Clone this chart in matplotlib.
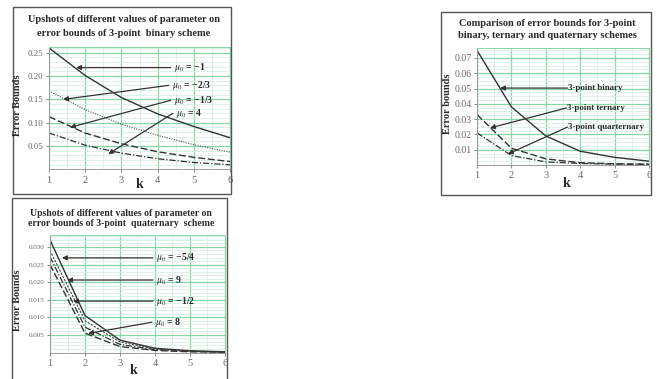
import numpy as np
import matplotlib
matplotlib.use("Agg")
import matplotlib.pyplot as plt
from matplotlib.patches import Rectangle
from matplotlib.ticker import MultipleLocator

plt.rcParams['font.family'] = ['Liberation Serif', 'DejaVu Serif']
plt.rcParams['mathtext.fontset'] = 'stix'

W, H = 659, 379

# data
k = [1, 2, 3, 4, 5, 6]

# panel 1: 3-point binary scheme
bin_m1 = [0.260, 0.201, 0.154, 0.119, 0.092, 0.068]
bin_m23 = [0.168, 0.128, 0.097, 0.073, 0.053, 0.037]
bin_m13 = [0.113, 0.078, 0.055, 0.038, 0.026, 0.017]
bin_4 = [0.078, 0.052, 0.035, 0.023, 0.015, 0.010]

# panel 2: comparison
cmp_binary = [0.075, 0.038, 0.019, 0.009, 0.005, 0.0025]
cmp_ternary = [0.033, 0.011, 0.004, 0.0015, 0.0008, 0.0005]
cmp_quat = [0.021, 0.0062, 0.002, 0.001, 0.0006, 0.0004]

# panel 3: 3-point quaternary scheme
quat_m54 = [0.032, 0.0105, 0.0035, 0.0012, 0.0005, 0.0002]
quat_9 = [0.029, 0.0090, 0.0030, 0.0010, 0.0004, 0.0002]
quat_m12 = [0.0272, 0.0072, 0.0023, 0.0008, 0.0003, 0.0001]
quat_8 = [0.025, 0.0055, 0.0017, 0.0006, 0.0002, 0.0001]

txt = '#2a2a2a'
major_c = '#86d6a6'
minor_c = '#d6f0df'


def px_axes(fig, left, right, top, bottom):
    return fig.add_axes([left / W, 1 - bottom / H, (right - left) / W, (bottom - top) / H])


def frame(fig, left, right, top, bottom):
    fig.add_artist(Rectangle((left / W, 1 - bottom / H), (right - left) / W, (bottom - top) / H,
                             transform=fig.transFigure, fill=False, ec='#555555', lw=1.0))


def style(ax, ylim, yticks, ymin_step, yfmt):
    ax.set_xlim(1, 6)
    ax.set_ylim(*ylim)
    ax.set_xticks(k)
    ax.set_yticks(yticks)
    ax.set_yticklabels([yfmt.format(v) for v in yticks])
    ax.xaxis.set_minor_locator(MultipleLocator(0.5))
    ax.yaxis.set_minor_locator(MultipleLocator(ymin_step))
    ax.grid(which='major', color=major_c, lw=0.9)
    ax.grid(which='minor', color=minor_c, lw=0.6)
    ax.set_axisbelow(True)
    ax.tick_params(which='major', length=2.5, width=0.6, color='#777777',
                   labelsize=6.5, labelcolor='#666666', pad=1.5)
    ax.tick_params(axis='x', labelsize=7.5, pad=2)
    ax.tick_params(which='minor', length=0)
    for s in ax.spines.values():
        s.set_color('#999999')
        s.set_linewidth(0.7)
    ax.spines['right'].set_color(major_c)
    ax.spines['top'].set_color(major_c)


def arrow(ax, label, tail, tip, dx=0.08, fs=7):
    ax.annotate('', xy=tip, xytext=tail,
                arrowprops=dict(arrowstyle='-|>', color='#333333', lw=0.9,
                                mutation_scale=7, shrinkA=0, shrinkB=0))
    ax.text(tail[0] + dx, tail[1], label, fontsize=fs, fontweight='bold',
            color=txt, va='center', ha='left')


fig = plt.figure(figsize=(W / 100, H / 100), dpi=100)
fig.patch.set_facecolor('white')

# ---------- panel 1 ----------
frame(fig, 13, 231, 7, 194)
ax1 = px_axes(fig, 49, 230, 47, 169.5)
ax1.plot(k, bin_m1, color='#333333', lw=1.0, ls='-')
ax1.plot(k, bin_m23, color='#555555', lw=0.8, ls=(0, (1, 1.2)))
ax1.plot(k, bin_m13, color='#333333', lw=1.0, ls=(0, (5, 2)))
ax1.plot(k, bin_4, color='#333333', lw=0.9, ls=(0, (5, 1.5, 1, 1.5)))
style(ax1, (0, 0.262), [0.05, 0.10, 0.15, 0.20, 0.25], 0.01, '{:.2f}')
arrow(ax1, r'$\mu_0$ = −1', (4.36, 0.218), (1.75, 0.218))
arrow(ax1, r'$\mu_0$ = −2/3', (4.31, 0.180), (1.39, 0.150))
arrow(ax1, r'$\mu_0$ = −1/3', (4.36, 0.148), (1.58, 0.090))
arrow(ax1, r'$\mu_0$ = 4', (4.42, 0.120), (2.64, 0.033))
fig.text(124 / W, 1 - 20 / H, 'Upshots of different values of parameter on', ha='center',
         va='center', fontsize=7.5, fontweight='bold', color=txt)
fig.text(124 / W, 1 - 33 / H, 'error bounds of 3-point  binary scheme', ha='center',
         va='center', fontsize=7.5, fontweight='bold', color=txt)
fig.text(18 / W, 1 - 105 / H, 'Error Bounds', rotation=90, ha='center', va='center',
         fontsize=7.5, fontweight='bold', color=txt)
fig.text(140 / W, 1 - 185 / H, 'k', ha='center', va='center', fontsize=10,
         fontweight='bold', color=txt)

# ---------- panel 2 ----------
frame(fig, 441, 651, 12, 195)
ax2 = px_axes(fig, 477, 649, 48, 165)
ax2.plot(k, cmp_binary, color='#333333', lw=1.0, ls='-')
ax2.plot(k, cmp_ternary, color='#333333', lw=1.0, ls=(0, (5, 2)))
ax2.plot(k, cmp_quat, color='#333333', lw=0.9, ls=(0, (5, 1.5, 1, 1.5)))
style(ax2, (0, 0.0765), [0.01, 0.02, 0.03, 0.04, 0.05, 0.06, 0.07], 0.0025, '{:.2f}')
ax2.tick_params(axis='y', labelsize=7)
arrow(ax2, '3-point binary', (3.63, 0.0503), (1.67, 0.0503), dx=0.02, fs=6.4)
arrow(ax2, '3-point ternary', (3.60, 0.0373), (1.38, 0.0242), dx=0.02, fs=6.4)
arrow(ax2, '3-point quarternary', (3.63, 0.0248), (1.90, 0.0072), dx=0.02, fs=6.4)
fig.text(547 / W, 1 - 23 / H, 'Comparison of error bounds for 3-point', ha='center',
         va='center', fontsize=7.5, fontweight='bold', color=txt)
fig.text(547 / W, 1 - 35 / H, 'binary, ternary and quaternary schemes', ha='center',
         va='center', fontsize=7.5, fontweight='bold', color=txt)
fig.text(447 / W, 1 - 104 / H, 'Error bounds', rotation=90, ha='center', va='center',
         fontsize=7.5, fontweight='bold', color=txt)
fig.text(567 / W, 1 - 184 / H, 'k', ha='center', va='center', fontsize=10,
         fontweight='bold', color=txt)

# ---------- panel 3 ----------
frame(fig, 12, 227, 198, 385)
ax3 = px_axes(fig, 50, 225, 235, 352.5)
ax3.plot(k, quat_m54, color='#333333', lw=1.0, ls='-')
ax3.plot(k, quat_9, color='#444444', lw=0.8, ls=(0, (2, 1.2)))
ax3.plot(k, quat_m12, color='#333333', lw=0.9, ls=(0, (5, 1.5, 1, 1.5)))
ax3.plot(k, quat_8, color='#333333', lw=1.0, ls=(0, (5, 2)))
style(ax3, (0, 0.0334), [0.005, 0.010, 0.015, 0.020, 0.025, 0.030], 0.001, '{:.3f}')
ax3.tick_params(axis='y', labelsize=5)
arrow(ax3, r'$\mu_0$ = −5/4', (3.94, 0.0269), (1.34, 0.0269))
arrow(ax3, r'$\mu_0$ = 9', (3.94, 0.0206), (1.49, 0.0206))
arrow(ax3, r'$\mu_0$ = −1/2', (3.94, 0.0146), (1.66, 0.0146))
arrow(ax3, r'$\mu_0$ = 8', (3.91, 0.0086), (2.09, 0.0054))
fig.text(121 / W, 1 - 213 / H, 'Upshots of different values of parameter on', ha='center',
         va='center', fontsize=7, fontweight='bold', color=txt)
fig.text(121 / W, 1 - 224 / H, 'error bounds of 3-point  quaternary  scheme', ha='center',
         va='center', fontsize=7, fontweight='bold', color=txt)
fig.text(18 / W, 1 - 300 / H, 'Error Bounds', rotation=90, ha='center', va='center',
         fontsize=7.5, fontweight='bold', color=txt)
fig.text(134 / W, 1 - 371 / H, 'k', ha='center', va='center', fontsize=10,
         fontweight='bold', color=txt)

fig.savefig('out.png', dpi=100, facecolor='white')
